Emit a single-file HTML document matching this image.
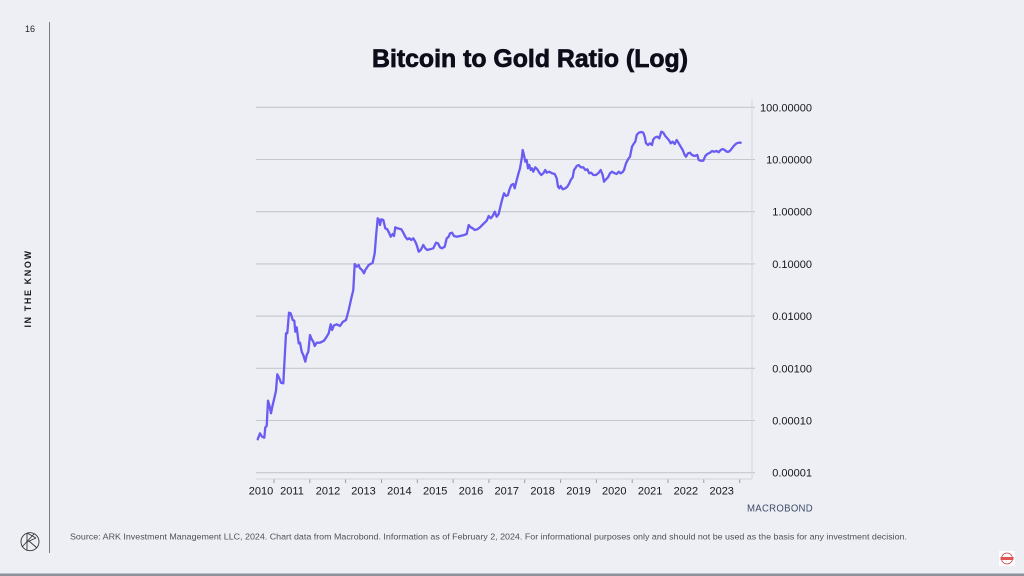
<!DOCTYPE html>
<html>
<head>
<meta charset="utf-8">
<style>
html,body{margin:0;padding:0;background:#eeeff4;}
svg{display:block;}
text{font-family:"Liberation Sans","DejaVu Sans",sans-serif;}
</style>
</head>
<body>
<svg width="1024" height="576" viewBox="0 0 1024 576" xmlns="http://www.w3.org/2000/svg">
<rect x="0" y="0" width="1024" height="576" fill="#eeeff4"/>
<rect x="0" y="573.5" width="1024" height="2.5" fill="#8c919c"/>

<!-- left sidebar -->
<line x1="49.5" y1="22" x2="49.5" y2="553" stroke="#7a7c82" stroke-width="1"/>
<text x="30" y="32" font-size="9" fill="#222" text-anchor="middle">16</text>
<text x="0" y="0" font-size="9" font-weight="bold" fill="#1a1a22" letter-spacing="1.6" text-anchor="middle" transform="translate(31,288.5) rotate(-90)">IN THE KNOW</text>
<g fill="none" stroke="#333" stroke-width="0.9">
<circle cx="30" cy="541.7" r="9"/>
<line x1="27" y1="533" x2="27" y2="550.5"/>
<line x1="27" y1="533" x2="36" y2="538"/>
<line x1="36" y1="538" x2="27" y2="542"/>
<line x1="29" y1="541" x2="37" y2="548"/>
<line x1="22" y1="547" x2="34" y2="534"/>
</g>

<!-- title -->
<text x="530" y="67" font-size="25" font-weight="bold" fill="#0d0d1a" stroke="#0d0d1a" stroke-width="0.7" text-anchor="middle" textLength="316" lengthAdjust="spacingAndGlyphs">Bitcoin to Gold Ratio (Log)</text>

<!-- gridlines -->
<g stroke="#c6c7cc" stroke-width="1.1">
<line x1="256" y1="107.3" x2="755" y2="107.3"/>
<line x1="256" y1="159.5" x2="755" y2="159.5"/>
<line x1="256" y1="211.7" x2="755" y2="211.7"/>
<line x1="256" y1="263.9" x2="755" y2="263.9"/>
<line x1="256" y1="316.1" x2="755" y2="316.1"/>
<line x1="256" y1="368.3" x2="755" y2="368.3"/>
<line x1="256" y1="420.5" x2="755" y2="420.5"/>
<line x1="256" y1="472.7" x2="755" y2="472.7"/>
</g>
<!-- axes -->
<line x1="752" y1="100" x2="752" y2="479" stroke="#d4d5da" stroke-width="1"/>
<line x1="256" y1="479" x2="752" y2="479" stroke="#d4d5da" stroke-width="1"/>
<g stroke="#9a9ba2" stroke-width="1">
<line x1="274" y1="479.5" x2="274" y2="483"/>
<line x1="309.8" y1="479.5" x2="309.8" y2="483"/>
<line x1="345.6" y1="479.5" x2="345.6" y2="483"/>
<line x1="381.5" y1="479.5" x2="381.5" y2="483"/>
<line x1="417.3" y1="479.5" x2="417.3" y2="483"/>
<line x1="453.1" y1="479.5" x2="453.1" y2="483"/>
<line x1="488.9" y1="479.5" x2="488.9" y2="483"/>
<line x1="524.7" y1="479.5" x2="524.7" y2="483"/>
<line x1="560.6" y1="479.5" x2="560.6" y2="483"/>
<line x1="596.4" y1="479.5" x2="596.4" y2="483"/>
<line x1="632.2" y1="479.5" x2="632.2" y2="483"/>
<line x1="668" y1="479.5" x2="668" y2="483"/>
<line x1="703.8" y1="479.5" x2="703.8" y2="483"/>
<line x1="739.7" y1="479.5" x2="739.7" y2="483"/>
</g>

<!-- y labels -->
<g font-size="11" fill="#16161e" text-anchor="end">
<text x="812" y="111.3">100.00000</text>
<text x="812" y="163.5">10.00000</text>
<text x="812" y="215.7">1.00000</text>
<text x="812" y="267.9">0.10000</text>
<text x="812" y="320.1">0.01000</text>
<text x="812" y="372.3">0.00100</text>
<text x="812" y="424.5">0.00010</text>
<text x="812" y="476.7">0.00001</text>
</g>
<!-- x labels -->
<g font-size="11" fill="#16161e" text-anchor="middle">
<text x="261" y="494.5">2010</text>
<text x="292" y="494.5">2011</text>
<text x="328" y="494.5">2012</text>
<text x="363.5" y="494.5">2013</text>
<text x="399.4" y="494.5">2014</text>
<text x="435.2" y="494.5">2015</text>
<text x="471" y="494.5">2016</text>
<text x="506.8" y="494.5">2017</text>
<text x="542.6" y="494.5">2018</text>
<text x="578.5" y="494.5">2019</text>
<text x="614.3" y="494.5">2020</text>
<text x="650.1" y="494.5">2021</text>
<text x="685.9" y="494.5">2022</text>
<text x="721.7" y="494.5">2023</text>
</g>

<!-- series -->
<polyline fill="none" stroke="#6a5cf2" stroke-width="2.3" stroke-linejoin="round" stroke-linecap="round" points="257.7,439.3 260,433.3 262,436.7 264.3,437.7 265.3,427.3 266.7,426 268,400.7 269.3,405 271,413.3 272.3,406.7 274.3,398.3 276,390.7 277.3,374.3 279.3,378.3 281,382.7 283.3,383.3 286,333.3 287.3,333.3 289,312.7 290.7,313.3 292.7,320 294.3,320.7 295.3,331.7 296.7,327.3 298.7,343.3 300,342.7 301.7,351.7 303.3,355 305.3,361.7 306.7,355 308.3,351.7 310,335 311.7,339.3 313.3,341.7 314.7,346 316.7,342.7 320,342.7 324,340.7 326.7,336.7 328.7,333.3 330.7,324.3 332,330 334,325.3 336.7,324.3 340,326 342.7,322 346,320 348.7,310 351.3,298.3 353.3,290 354.7,264 356.7,266.7 358.7,265 360,268.3 362,270 364,273.3 365.3,270 368.7,265 372.7,262.7 374.7,253.3 376,236.7 377.7,218.3 379.3,220 380,225 381.3,219.3 383.3,220 385.3,228.3 387.3,229.3 389.3,233.3 390.7,236.7 392.7,234 394,236 395.3,227.3 397.3,228.3 401.3,229.3 403.3,232.7 405.3,236.7 407.3,239.3 409.3,238.3 411.3,240 413.3,238.3 415.3,241.7 416.7,245 418.7,251.7 420.7,250 423.3,245 425.3,248.3 427.3,250 430,249.3 433.3,248.3 436,242.7 438,243.3 440,247.3 442,248.3 444.7,246.7 446.7,238.3 448.7,236.7 450,233.3 452,232.7 454,236 456.7,236.7 460,236 463.3,235.3 466.7,234 468.7,225 470.7,227.3 472.7,228.3 474.7,230 477.3,229.3 480,227.3 483.3,224 486.7,220.7 488.7,216 490.7,218.3 492.7,216 494.7,211.7 496.7,216.7 498.7,214 500,208.3 502,200 504,193.3 506,196 508,195 509.3,190 511.3,185 513.3,184 514.7,188.3 516.7,180 518.7,172.7 520,168.3 522,156.7 522.7,150 524,155 525.3,161.7 526.7,160 528,168.3 529.3,165 530.7,170 532,168.3 533.3,171.7 535.3,167.3 537.3,169.3 539.3,172.7 541.3,175 543.3,173.3 545.3,170 546.7,172.7 549.3,171.7 552,173.3 554.7,174 556.7,178.3 558,186.7 559.3,188.3 560.7,186 562.7,189.3 565.3,188.3 567.3,186.7 569.3,183.3 570.7,180 572.7,177.3 574,170 575.3,168.3 576.7,166 578.7,165 580.7,167.3 583.3,167.3 585.3,170 587.3,169.3 589.3,173.3 591.3,172.7 593.3,175 596,175 598.7,172.7 600.7,170 602.7,175 604,181.7 606,179.3 608,177.3 610,173.3 612,171.7 614.7,173.3 616.7,174 618.7,171.7 620.7,173.3 622.7,172 624,170 626,163.3 628,159.3 630,156.7 632,146.7 634,143.3 635.3,141.7 636.7,135 638.7,132.7 641.3,132 643.3,132.7 644.7,136.7 646,143.3 648,145 650,143.3 652,145 653.3,139.3 655.3,137.3 657.3,136.7 659.3,138.3 661.3,131.7 663.3,132.7 665.3,136 667.3,138.3 669.3,140.7 670.7,143.3 672.7,141.7 674.7,144 676.7,140 678.7,143.3 680.7,146.7 682.7,150 684.7,155 686,156.7 688,153.3 690,152.7 692,155 694.7,156 697.3,155 698.7,160 700.7,160.7 703.3,160.7 705.3,156 707.3,154 710,152.7 712,151 714,151.7 716.7,151 718.7,152.3 720.7,150 722.7,149 724.7,150 726.7,151.7 728.7,151.7 730.7,150 732.7,147.3 734.7,145 736.7,143.3 738.7,142.7 740.7,142.7"/>

<!-- macrobond -->
<text x="780" y="511.5" font-size="10" fill="#3c4a66" text-anchor="middle" textLength="66" lengthAdjust="spacingAndGlyphs" letter-spacing="0.3">MACROBOND</text>

<!-- footer -->
<text x="70" y="539.5" font-size="8.6" fill="#4e5058" textLength="837" lengthAdjust="spacingAndGlyphs">Source: ARK Investment Management LLC, 2024. Chart data from Macrobond. Information as of February 2, 2024. For informational purposes only and should not be used as the basis for any investment decision.</text>

<!-- bottom-right logo -->
<rect x="999" y="551" width="16" height="15" fill="#ffffff"/>
<circle cx="1007" cy="558.5" r="5.5" fill="none" stroke="#c44" stroke-width="0.8"/>
<rect x="1000.5" y="557" width="13" height="3" fill="#e05555"/>
</svg>
</body>
</html>
